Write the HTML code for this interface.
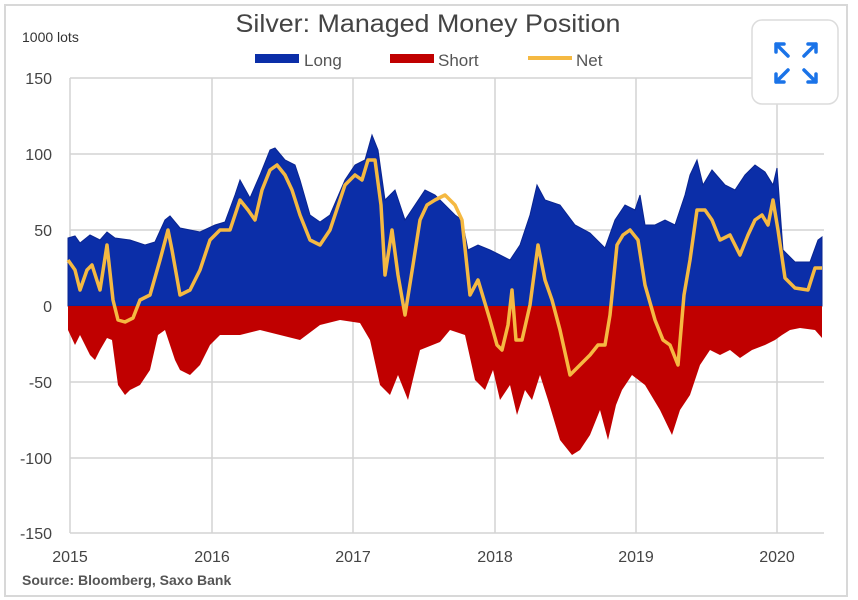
<!DOCTYPE html>
<html><head><meta charset="utf-8"><style>
html,body{margin:0;padding:0;background:#fff;}
svg{display:block;font-family:"Liberation Sans",sans-serif;}
</style></head><body>
<svg width="858" height="600" viewBox="0 0 858 600" xmlns="http://www.w3.org/2000/svg">
<rect x="0" y="0" width="858" height="600" fill="#fff"/>
<rect x="5" y="5" width="842" height="591" fill="none" stroke="#d8d8d8" stroke-width="2"/>
<text x="428" y="32" font-size="25" fill="#444" text-anchor="middle" textLength="385" lengthAdjust="spacingAndGlyphs">Silver: Managed Money Position</text>
<text x="22" y="42" font-size="14" fill="#333">1000 lots</text>
<rect x="255" y="54" width="44" height="9" fill="#0b2ea8"/><text x="304" y="66" font-size="17" fill="#555">Long</text>
<rect x="390" y="54" width="44" height="9" fill="#c00000"/><text x="438" y="66" font-size="17" fill="#555">Short</text>
<rect x="528" y="56" width="44" height="4" fill="#f5b942"/><text x="576" y="66" font-size="17" fill="#555">Net</text>
<g stroke="#d4d4d4" stroke-width="1.5">
<line x1="70" y1="78" x2="824" y2="78"/><line x1="70" y1="154" x2="824" y2="154"/><line x1="70" y1="230" x2="824" y2="230"/>
<line x1="70" y1="382" x2="824" y2="382"/><line x1="70" y1="458" x2="824" y2="458"/><line x1="70" y1="533" x2="824" y2="533"/>
<line x1="70" y1="78" x2="70" y2="533"/><line x1="212" y1="78" x2="212" y2="533"/><line x1="353" y1="78" x2="353" y2="533"/>
<line x1="495" y1="78" x2="495" y2="533"/><line x1="636" y1="78" x2="636" y2="533"/><line x1="777" y1="78" x2="777" y2="533"/>
</g>
<g font-size="16" fill="#444" text-anchor="end">
<text x="52" y="84">150</text><text x="52" y="160">100</text><text x="52" y="236">50</text><text x="52" y="312">0</text>
<text x="52" y="388">-50</text><text x="52" y="464">-100</text><text x="52" y="539">-150</text>
</g>
<g font-size="16" fill="#444" text-anchor="middle">
<text x="70" y="562">2015</text><text x="212" y="562">2016</text><text x="353" y="562">2017</text>
<text x="495" y="562">2018</text><text x="636" y="562">2019</text><text x="777" y="562">2020</text>
</g>
<text x="22" y="585" font-size="14" font-weight="bold" fill="#555">Source: Bloomberg, Saxo Bank</text>
<polygon fill="#0b2ea8" stroke="#0a2590" stroke-width="1" points="68,306 68,238 75,236 80,243 90,235 100,240 107,232 115,238 130,240 145,245 155,242 165,220 170,216 180,228 200,232 215,225 225,222 235,195 240,180 250,198 260,175 270,150 275,148 285,160 295,165 300,180 310,215 320,222 330,215 345,180 355,165 365,160 372,135 378,150 385,200 395,190 405,220 415,205 425,190 435,195 445,205 455,215 462,220 468,250 478,245 490,250 500,255 510,260 520,245 530,215 537,185 545,200 560,205 575,225 590,233 605,248 615,220 625,205 635,210 640,195 645,225 655,225 665,220 675,225 685,195 690,175 697,160 703,185 712,170 725,185 735,190 745,175 755,165 765,172 773,185 777,168 783,250 795,262 810,262 818,240 822,237 822,306"/>
<polygon fill="#c00000" points="68,306 68,330 75,345 80,335 90,355 95,360 100,350 107,338 112,340 118,385 125,395 130,390 140,385 150,370 158,335 165,330 175,360 180,370 190,375 200,365 210,345 220,335 240,335 260,330 280,335 300,340 320,325 340,320 360,323 370,340 380,385 390,395 398,375 408,400 420,350 440,342 450,330 465,335 475,380 485,390 493,370 500,400 510,385 517,415 525,390 532,400 540,375 548,400 560,440 572,455 580,450 590,435 600,410 608,440 616,405 622,390 632,375 645,385 660,410 672,435 680,410 690,395 700,365 710,350 720,355 730,350 740,358 752,350 765,345 775,340 782,335 790,330 800,328 815,330 822,338 822,306"/>
<polyline fill="none" stroke="#f5b942" stroke-width="3.5" stroke-linejoin="round" points="68,260 75,270 80,290 87,270 92,265 100,290 107,245 113,300 118,320 125,322 133,318 140,300 150,295 160,260 168,230 172,250 180,295 190,290 200,270 210,240 220,230 230,230 240,200 248,210 255,220 262,190 270,170 277,165 285,175 292,190 300,215 310,240 320,245 330,230 345,185 355,175 362,180 368,160 375,160 381,205 385,275 392,230 398,275 405,315 413,265 420,220 427,205 435,200 445,195 455,205 462,220 470,295 478,280 490,320 497,345 502,350 508,325 512,290 516,340 522,340 530,305 538,245 545,280 552,300 560,330 570,375 580,365 590,355 598,345 605,345 610,315 617,245 623,235 630,230 638,240 645,285 655,320 663,340 670,345 678,365 684,295 690,260 697,210 705,210 712,220 720,240 730,235 740,255 748,235 755,220 762,215 768,225 773,200 778,230 785,278 795,288 808,290 815,268 822,268"/>
<rect x="752" y="20" width="86" height="84" rx="10" fill="#fff" stroke="#dcdcdc" stroke-width="1.5"/>
<g stroke="#1a73e8" stroke-width="3.5" fill="none" stroke-linecap="round">
<path d="M776 44 L788 56 M776 44 h8 M776 44 v8"/>
<path d="M816 44 L804 56 M816 44 h-8 M816 44 v8"/>
<path d="M776 82 L788 70 M776 82 h8 M776 82 v-8"/>
<path d="M816 82 L804 70 M816 82 h-8 M816 82 v-8"/>
</g>
</svg>
</body></html>
